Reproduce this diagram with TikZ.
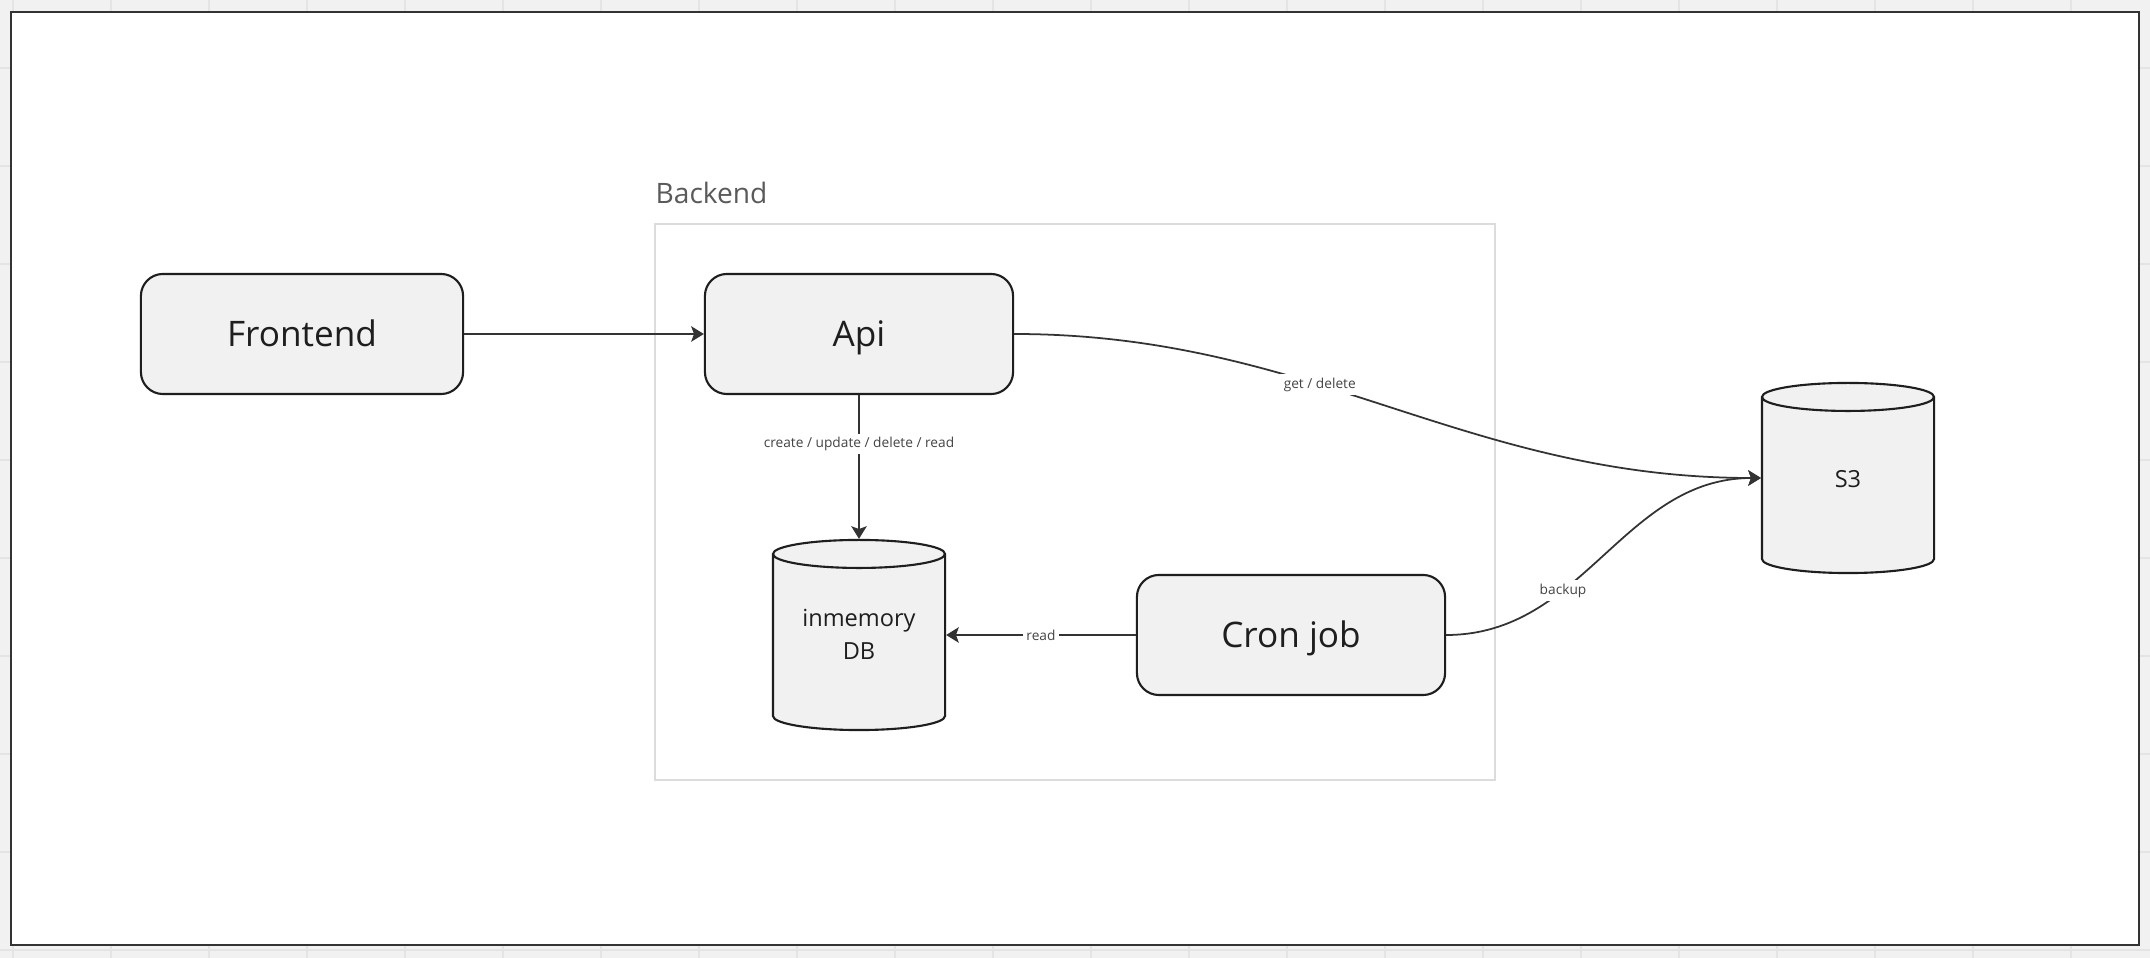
\documentclass[tikz,border=0pt]{standalone}
\usepackage{fontspec}
\setmainfont{Open Sans}
\usetikzlibrary{shapes.geometric,arrows.meta}

% text of a store, kept out of the shape's size
\newcommand{\storetext}[2][0pt]{\raisebox{#1}[0pt][0pt]{\makebox[1.12cm]{\begin{tabular}{@{}c@{}}#2\end{tabular}}}}

\begin{document}
\begin{tikzpicture}[x=0.01cm,y=-0.01cm,
  box/.style={shape=rectangle,draw=boxline,fill=boxfill,line width=0.6pt,rounded corners=0.22cm,minimum width=3.08cm,minimum height=1.2cm,font=\fontsize{10}{12}\selectfont,text=boxtext,text height=7.1pt,text depth=0pt},
  store/.style={shape=cylinder,shape border rotate=90,aspect=0.25,draw=boxline,fill=boxfill,line width=0.6pt,minimum width=1.72cm,minimum height=1.9cm,inner sep=0pt,font=\fontsize{6.7}{9.2}\selectfont,text=boxtext,anchor=shape center},
  link/.style={-{Stealth[length=3.6pt,width=4.4pt,inset=0.8pt]},draw=linkcol,line width=0.5pt},
  linklabel/.style={fill=white,inner sep=1pt,text=labeltext,font=\fontsize{3.9}{4.5}\selectfont}]
\definecolor{canvas}{RGB}{241,241,241}
\definecolor{gridline}{RGB}{228,228,228}
\definecolor{frameline}{RGB}{51,51,51}
\definecolor{groupline}{RGB}{220,220,220}
\definecolor{grouptext}{RGB}{90,90,90}
\definecolor{boxfill}{RGB}{241,241,241}
\definecolor{boxline}{RGB}{30,30,30}
\definecolor{boxtext}{RGB}{30,30,30}
\definecolor{linkcol}{RGB}{51,51,51}
\definecolor{labeltext}{RGB}{68,68,68}
\useasboundingbox (0,0) rectangle (2150,958);

% canvas and frame
\fill[canvas] (0,0) rectangle (2150,958);
\foreach \gx in {13,111,...,2150} \draw[gridline,line width=0.5pt] (\gx,0) -- (\gx,958);
\foreach \gy in {68,166,...,958} \draw[gridline,line width=0.5pt] (0,\gy) -- (2150,\gy);
\draw[frameline,fill=white,line width=0.7pt] (11,12) rectangle (2139,945);

% backend group
\draw[groupline,line width=0.45pt] (655,224) rectangle (1495,780);
\node[anchor=west,inner sep=0pt,text=grouptext,font=\fontsize{8}{10}\selectfont] (backendlabel) at (655,193) {Backend};

\node[box,minimum width=3.22cm] (frontend) at (302,334) {Frontend};
\node[box] (api) at (859,334) {Api};
\node[box] (cron) at (1291,635) {Cron job};
\node[store] (memdb) at (859,635) {\storetext{inmemory\\DB}};
\node[store] (s3) at (1848,478) {\storetext[-0.5pt]{S3}};

\draw[link] (frontend) -- (api);
\draw[link] (api) -- node[linklabel,pos=0.34] {create / update / delete / read} (memdb);
\draw[link] (cron.west) -- node[linklabel] {read} (cron.west -| memdb.east);
\draw[link] (api.east) to[out=0,in=180] node[linklabel,pos=0.4] {get / delete} (s3.west |- s3.shape center);
\draw[link] (cron.east) to[out=0,in=180] node[linklabel,pos=0.35] {backup} (s3.west |- s3.shape center);
\end{tikzpicture}
\end{document}
